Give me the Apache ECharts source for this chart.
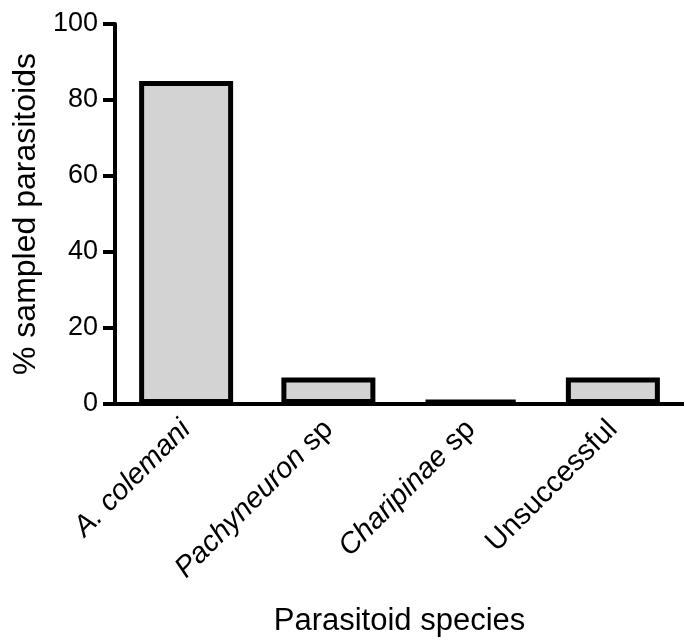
<!DOCTYPE html>
<html>
<head>
<meta charset="utf-8">
<script src="https://cdn.jsdelivr.net/npm/echarts@6/dist/echarts.min.js"></script>
<style>
html,body{margin:0;padding:0;background:#fff;}
#chart{width:684px;height:642px;}
</style>
</head>
<body>
<div id="chart"></div>
<script>
const categories = ['A. colemani', 'Pachyneuron sp', 'Charipinae sp', 'Unsuccessful'];
const italicPart = ['A. colemani', 'Pachyneuron', 'Charipinae', ''];
const plainPart = ['', ' sp', ' sp', 'Unsuccessful'];
const values = [85, 7, 1, 7];
const yTicks = [0, 20, 40, 60, 80, 100];

const FONT = '"Liberation Sans", Arial, sans-serif';
const chart = echarts.init(document.getElementById('chart'));
chart.setOption({
  animation: false,
  backgroundColor: '#ffffff',
  grid: { left: 115, top: 24, bottom: 236, width: 573, containLabel: false },
  xAxis: {
    type: 'category',
    data: categories,
    name: 'Parasitoid species',
    nameLocation: 'middle',
    nameGap: 202,
    nameTextStyle: { fontFamily: FONT, fontSize: 31, color: '#000' },
    axisLine: { lineStyle: { color: '#000', width: 4 } },
    axisTick: { alignWithLabel: true, length: 9, lineStyle: { color: '#000', width: 4 } },
    axisLabel: {
      rotate: 45,
      margin: 21,
      interval: 0,
      color: '#000',
      fontFamily: FONT,
      fontSize: 29,
      formatter: function (v, i) {
        let s = '';
        if (italicPart[i]) s += '{i|' + italicPart[i] + '}';
        if (plainPart[i]) s += '{n|' + plainPart[i] + '}';
        return s;
      },
      rich: {
        i: { fontStyle: 'italic', fontFamily: FONT, fontSize: 29, color: '#000' },
        n: { fontFamily: FONT, fontSize: 29, color: '#000' }
      }
    }
  },
  yAxis: {
    type: 'value',
    min: yTicks[0],
    max: yTicks[yTicks.length - 1],
    interval: 20,
    name: '% sampled parasitoids',
    nameLocation: 'middle',
    nameRotate: 90,
    nameGap: 69,
    nameTextStyle: { fontFamily: FONT, fontSize: 32, color: '#000' },
    axisLine: { show: true, lineStyle: { color: '#000', width: 4 } },
    axisTick: { show: true, length: 12, lineStyle: { color: '#000', width: 4 } },
    axisLabel: { margin: 17, color: '#000', fontFamily: FONT, fontSize: 27 },
    splitLine: { show: false }
  },
  series: [{
    type: 'bar',
    data: values,
    barWidth: 94,
    itemStyle: { color: '#d3d3d3', borderColor: '#000', borderWidth: 5 }
  }]
});
</script>
</body>
</html>
